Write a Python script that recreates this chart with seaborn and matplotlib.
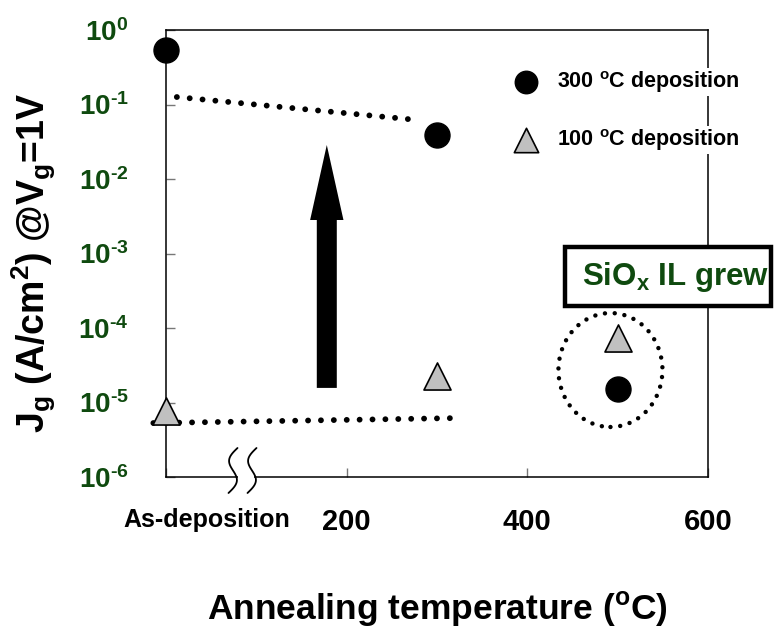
import numpy as np
import pandas as pd
import matplotlib
matplotlib.use("Agg")
import matplotlib.pyplot as plt
import seaborn as sns
from matplotlib.patches import Rectangle, Ellipse, FancyArrowPatch, ArrowStyle
from matplotlib.ticker import FixedLocator, NullLocator
from matplotlib.transforms import ScaledTranslation

# ---------------- data ----------------
temps_300 = [0, 300, 500]
jg_300 = [5.4e-1, 3.9e-2, 1.5e-5]
temps_100 = [0, 300, 500]
jg_100 = [7.7e-6, 2.3e-5, 7.3e-5]

label_300 = "300 $^{\\rm o}$C deposition"
label_100 = "100 $^{\\rm o}$C deposition"

# guide lines (dotted) drawn on the chart
upper_guide_x = [12, 278]
upper_guide_y = [0.126, 0.062]
lower_guide_x = [-14, 328]
lower_guide_y = [5.3e-6, 6.2e-6]

# big arrow
arrow_x = 178
arrow_y = [1.57e-5, 2.86e-2]

x_ticks = [0, 200, 400, 600]
x_ticklabels = ["As-deposition", "200", "400", "600"]
y_ticks = [1e-6, 1e-5, 1e-4, 1e-3, 1e-2, 1e-1, 1e0]
y_ticklabels = ["10$^{\\text{-}6}$", "10$^{\\text{-}5}$", "10$^{\\text{-}4}$",
                "10$^{\\text{-}3}$", "10$^{\\text{-}2}$", "10$^{\\text{-}1}$",
                "10$^{0}$"]

GREEN = "#0f4a0f"

# ---------------- style ----------------
sns.set_theme(style="white")
plt.rcParams["font.family"] = ["Liberation Sans", "DejaVu Sans"]
plt.rcParams["font.weight"] = "bold"
plt.rcParams["text.color"] = "black"
plt.rcParams["axes.labelcolor"] = "black"
plt.rcParams["mathtext.fontset"] = "custom"
for k in ["rm", "it", "bf", "sf"]:
    plt.rcParams["mathtext." + k] = "Liberation Sans:bold"

W, H = 774, 637
fig = plt.figure(figsize=(W / 100, H / 100), dpi=100)
L, R, T, B = 166, 708, 30, 477
ax = fig.add_axes([L / W, 1 - B / H, (R - L) / W, (B - T) / H])
axw, axh = R - L, B - T

df300 = pd.DataFrame({"temp": temps_300, "jg": jg_300})
df100 = pd.DataFrame({"temp": temps_100, "jg": jg_100})

sns.scatterplot(data=df300, x="temp", y="jg", marker="o", s=324, color="black",
                edgecolor="black", linewidth=1, ax=ax, label=label_300,
                clip_on=False, zorder=4)
sns.scatterplot(data=df100, x="temp", y="jg", marker="^", s=380, color="#c0c0c0",
                edgecolor="black", linewidth=1.2, ax=ax, label=label_100,
                clip_on=False, zorder=4)

ax.set_yscale("log")
ax.set_xlim(0, 600)
ax.set_ylim(1e-6, 1e0)

# dotted guides
dot_style = dict(color="black", linestyle=(0, (0.01, 2.2)), lw=4.2,
                 dash_capstyle="round", clip_on=False, zorder=3)
ax.plot(upper_guide_x, upper_guide_y, **dot_style)
ax.plot(lower_guide_x, lower_guide_y, **dot_style)

# arrow
arr = FancyArrowPatch(posA=(arrow_x, arrow_y[0]), posB=(arrow_x, arrow_y[1]),
                      arrowstyle=ArrowStyle.Simple(head_length=54, head_width=24,
                                                   tail_width=14.4),
                      mutation_scale=1, color="black", lw=0,
                      shrinkA=0, shrinkB=0, zorder=3)
ax.add_patch(arr)

# dotted ellipse around 500 C points
c_disp = ax.transData.transform((492, 2.73e-5))
c_ax = ax.transAxes.inverted().transform(c_disp)
ell = Ellipse(c_ax, 104 / axw, 114 / axh, transform=ax.transAxes, fill=False,
              edgecolor="black", lw=3.2, linestyle=(0, (0.01, 2.2)),
              capstyle="round", zorder=3)
ax.add_patch(ell)

# ticks
ax.xaxis.set_major_locator(FixedLocator(x_ticks))
ax.set_xticklabels(x_ticklabels)
ax.yaxis.set_major_locator(FixedLocator(y_ticks))
ax.yaxis.set_minor_locator(NullLocator())
ax.set_yticklabels(y_ticklabels)
ax.tick_params(axis="both", which="major", direction="in", length=6.5,
               width=1.0, color="#777777", bottom=True, left=True)
ax.tick_params(axis="y", labelsize=20, labelcolor=GREEN, pad=27)
ax.tick_params(axis="x", labelsize=21, labelcolor="black", pad=22)
for lab in ax.get_yticklabels():
    lab.set_fontweight("bold")
xl = ax.get_xticklabels()
for lab in xl:
    lab.set_fontweight("bold")
xl[0].set_fontsize(18)
xl[0].set_transform(xl[0].get_transform() + ScaledTranslation(0.41, 0, fig.dpi_scale_trans))

for s in ax.spines.values():
    s.set_color("black")
    s.set_linewidth(1.1)
    s.set_visible(True)

# axis labels
ax.set_xlabel("Annealing temperature ($^{\\rm o}$C)", fontsize=25.5,
              fontweight="bold", color="black")
ax.xaxis.set_label_coords(0.5, (B - 590) / axh)
ax.set_ylabel("J$_{\\rm g}$ (A/cm$^{\\rm 2}$) @V$_{\\rm g}$=1V", fontsize=27,
              fontweight="bold", color="black")
ax.yaxis.set_label_coords((58 - L) / axw, 0.48)

# axis break marks
t = np.linspace(0, 1, 80)
for xc in (233, 252):
    xs = xc - 6 * np.sin(2 * np.pi * t) + 9 * (0.5 - t)
    ys = 29 - 45 * t
    ax.plot((xs - L) / axw, ys / axh, transform=ax.transAxes, color="black",
            lw=1.3, clip_on=False, zorder=6)
ax.add_patch(Rectangle(((237.8 - L) / axw, -4 / axh), 16 / axw, 8 / axh,
                       transform=ax.transAxes, facecolor="white",
                       edgecolor="none", clip_on=False, zorder=5))

# legend
leg = ax.legend(loc="upper left", bbox_to_anchor=(504 / W, 1 - 69 / H),
                bbox_transform=fig.transFigure, frameon=False, fontsize=15.5,
                markerscale=0.9, handletextpad=0.45, labelspacing=1.5,
                borderpad=0, borderaxespad=0)
for txt in leg.get_texts():
    txt.set_fontweight("bold")
    txt.set_color("black")
    txt.set_bbox(dict(facecolor="white", edgecolor="none", pad=1))
leg.set_zorder(7)

# SiOx box
fig.add_artist(Rectangle((565 / W, 1 - 306 / H), (771 - 565) / W, 59 / H,
                         transform=fig.transFigure, facecolor="white",
                         edgecolor="black", lw=3.2, zorder=8))
fig.text(582 / W, 1 - 277 / H, "SiO$_{\\rm x}$ IL grew", fontsize=22.5,
         fontweight="bold", color=GREEN, ha="left", va="center", zorder=9)

fig.savefig("out.png", dpi=100)
